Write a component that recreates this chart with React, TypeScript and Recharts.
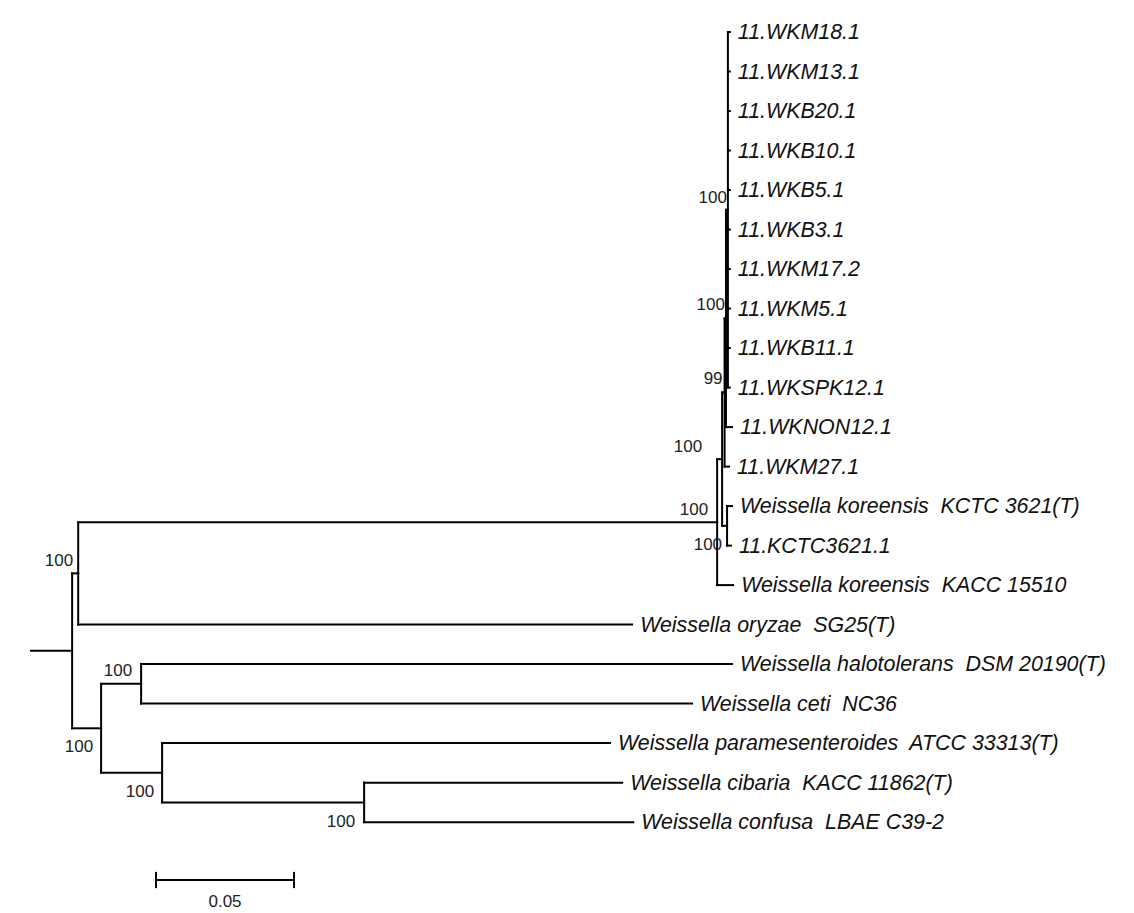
import React from 'react';
import { ComposedChart, XAxis, YAxis, ReferenceLine, Scatter } from 'recharts';

// ---- DATA ----
const leafNames: string[] = [
  '11.WKM18.1',
  '11.WKM13.1',
  '11.WKB20.1',
  '11.WKB10.1',
  '11.WKB5.1',
  '11.WKB3.1',
  '11.WKM17.2',
  '11.WKM5.1',
  '11.WKB11.1',
  '11.WKSPK12.1',
  '11.WKNON12.1',
  '11.WKM27.1',
  'Weissella koreensis  KCTC 3621(T)',
  '11.KCTC3621.1',
  'Weissella koreensis  KACC 15510',
  'Weissella oryzae  SG25(T)',
  'Weissella halotolerans  DSM 20190(T)',
  'Weissella ceti  NC36',
  'Weissella paramesenteroides  ATCC 33313(T)',
  'Weissella cibaria  KACC 11862(T)',
  'Weissella confusa  LBAE C39-2',
];
const leafParents: string[] = [
  'N6', 'N6', 'N6', 'N6', 'N6', 'N6', 'N6', 'N6', 'N6', 'N6',
  'N5', 'N3', 'N4', 'N4', 'N1', 'A', 'B1', 'B1', 'B2', 'B3', 'B3',
];
const leafLengths: number[] = [
  0.0007, 0.0007, 0.0007, 0.0007, 0.0007, 0.0007, 0.0007, 0.0007, 0.0007, 0.0007,
  0.0022, 0.0016, 0.0018, 0.0014, 0.0058, 0.2007, 0.2141, 0.1996, 0.1623, 0.0935, 0.0975,
];
const nodeIds: string[] = ['R', 'A', 'B', 'N1', 'N2', 'N3', 'N5', 'N6', 'N4', 'B1', 'B2', 'B3'];
const nodeParents: string[] = ['', 'R', 'R', 'A', 'N1', 'N2', 'N3', 'N5', 'N2', 'B', 'B', 'B2'];
const nodeLengths: number[] = [0.0149, 0.0022, 0.0105, 0.2315, 0.0018, 0.0009, 0.0005, 0.0007, 0.0018, 0.0145, 0.0221, 0.0732];
const bootstrapValues: (number | null)[] = [null, 100, 100, 100, 100, 99, 100, 100, 100, 100, 100, 100];
const scaleBarValue = 0.05;
const scaleBarLabel = '0.05';

// ---- LAYOUT / STYLE ----
const W = 1134;
const H = 913;
const X_DOMAIN: [number, number] = [-31 / 2760, 1103 / 2760];
const Y_DOMAIN: [number, number] = [-0.81, 22.3];
const SCALE_X = 0.0453;
const SCALE_Y = 21.465;
const LINE = { stroke: '#000', strokeWidth: 2 };
const bootPlacement: Record<string, { dx: number; dy: number }> = {
  A: { dx: -5, dy: -13 },
  B: { dx: -8, dy: 18 },
  B1: { dx: -9, dy: -13 },
  B2: { dx: -8, dy: 19 },
  B3: { dx: -9, dy: 19 },
  N1: { dx: -9, dy: -13 },
  N2: { dx: -20, dy: -13 },
  N3: { dx: -2, dy: -14 },
  N5: { dx: -1, dy: -14 },
  N6: { dx: -1, dy: -12 },
  N4: { dx: -5, dy: 19 },
};

type TNode = {
  id: string;
  parent: string;
  len: number;
  children: string[];
  x: number;
  y: number;
  name?: string;
  boot?: number | null;
  leaf: boolean;
};

function buildTree() {
  const map = new Map<string, TNode>();
  nodeIds.forEach((id, i) =>
    map.set(id, { id, parent: nodeParents[i], len: nodeLengths[i], children: [], x: 0, y: 0, boot: bootstrapValues[i], leaf: false })
  );
  leafNames.forEach((name, i) =>
    map.set('leaf' + i, { id: 'leaf' + i, parent: leafParents[i], len: leafLengths[i], children: [], x: 0, y: i, name, leaf: true })
  );
  map.forEach((n) => {
    if (n.parent) map.get(n.parent)!.children.push(n.id);
  });
  const root = map.get('R')!;
  const setX = (n: TNode, px: number) => {
    n.x = px + n.len;
    n.children.forEach((c) => setX(map.get(c)!, n.x));
  };
  setX(root, 0);
  const setY = (n: TNode): number => {
    if (n.leaf) return n.y;
    const ys = n.children.map((c) => setY(map.get(c)!));
    n.y = (Math.min(...ys) + Math.max(...ys)) / 2;
    return n.y;
  };
  setY(root);
  return map;
}

const tree = buildTree();

type Seg = [{ x: number; y: number }, { x: number; y: number }];
const segments: Seg[] = [];
tree.forEach((n) => {
  if (n.parent) {
    const p = tree.get(n.parent)!;
    segments.push([{ x: p.x, y: n.y }, { x: n.x, y: n.y }]);
  } else {
    segments.push([{ x: 0, y: n.y }, { x: n.x, y: n.y }]);
  }
  if (!n.leaf) {
    const ys = n.children.map((c) => tree.get(c)!.y);
    segments.push([{ x: n.x, y: Math.min(...ys) }, { x: n.x, y: Math.max(...ys) }]);
  }
});
// scale bar
segments.push([{ x: SCALE_X, y: SCALE_Y }, { x: SCALE_X + scaleBarValue, y: SCALE_Y }]);
segments.push([{ x: SCALE_X, y: SCALE_Y - 0.18 }, { x: SCALE_X, y: SCALE_Y + 0.18 }]);
segments.push([{ x: SCALE_X + scaleBarValue, y: SCALE_Y - 0.18 }, { x: SCALE_X + scaleBarValue, y: SCALE_Y + 0.18 }]);

const leafData = Array.from(tree.values())
  .filter((n) => n.leaf)
  .map((n) => ({ x: n.x, y: n.y, name: n.name }));
const bootData = Array.from(tree.values())
  .filter((n) => !n.leaf && n.boot != null)
  .map((n) => ({ x: n.x, y: n.y, id: n.id, boot: n.boot }));
const scaleData = [{ x: SCALE_X + scaleBarValue / 2, y: SCALE_Y + 0.55, label: scaleBarLabel }];

const FONT = '"Liberation Sans", Arial, sans-serif';

const LeafLabel = (p: any) => {
  const name = p.payload?.name ?? p.name;
  return (
    <text
      x={p.cx + 8}
      y={p.cy}
      dominantBaseline="central"
      fontFamily={FONT}
      fontStyle="italic"
      fontSize={21.4}
      fill="#111"
      style={{ whiteSpace: 'pre' }}
    >
      {name}
    </text>
  );
};

const BootLabel = (p: any) => {
  const d = p.payload ?? p;
  const pl = bootPlacement[d.id] ?? { dx: -8, dy: -13 };
  return (
    <text
      x={p.cx + pl.dx}
      y={p.cy + pl.dy}
      textAnchor="end"
      dominantBaseline="central"
      fontFamily={FONT}
      fontSize={17}
      fill="#222"
    >
      {d.boot}
    </text>
  );
};

const ScaleLabel = (p: any) => {
  const d = p.payload ?? p;
  return (
    <text x={p.cx} y={p.cy} textAnchor="middle" dominantBaseline="central" fontFamily={FONT} fontSize={17} fill="#222">
      {d.label}
    </text>
  );
};

export default function App() {
  return (
    <div style={{ position: 'absolute', left: 0, top: 0, width: W, height: H, background: '#fff' }}>
      <ComposedChart width={W} height={H} margin={{ top: 0, right: 0, bottom: 0, left: 0 }}>
        <XAxis type="number" dataKey="x" domain={X_DOMAIN} hide allowDataOverflow />
        <YAxis type="number" dataKey="y" domain={Y_DOMAIN} reversed hide allowDataOverflow />
        {segments.map((s, i) => (
          <ReferenceLine key={i} segment={s} {...LINE} strokeLinecap="square" ifOverflow="visible" />
        ))}
        <Scatter data={leafData} dataKey="y" shape={LeafLabel} isAnimationActive={false} />
        <Scatter data={bootData} dataKey="y" shape={BootLabel} isAnimationActive={false} />
        <Scatter data={scaleData} dataKey="y" shape={ScaleLabel} isAnimationActive={false} />
      </ComposedChart>
    </div>
  );
}
